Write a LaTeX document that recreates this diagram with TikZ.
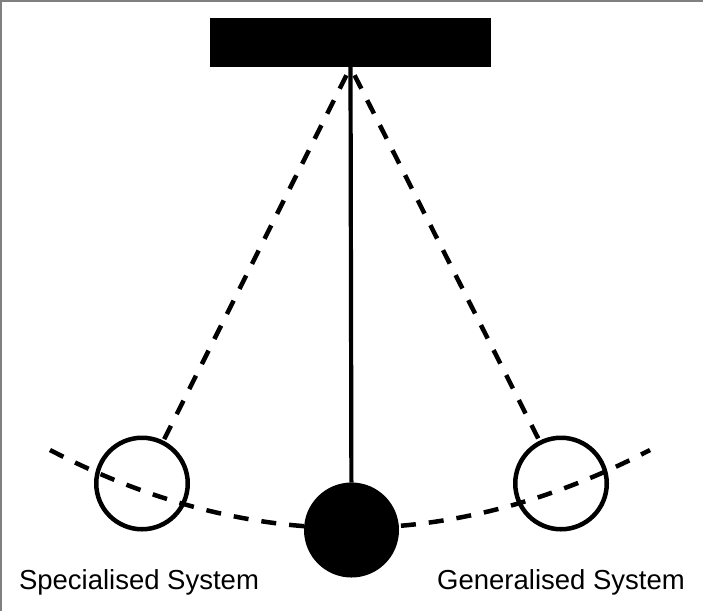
\documentclass[tikz,border=0pt]{standalone}
\usepackage{fontspec}
\setmainfont{Liberation Sans}
\begin{document}
\begin{tikzpicture}[x=1pt,y=-1pt,
  bar/.style={fill=black,inner sep=0pt,minimum width=281pt,minimum height=49pt},
  bob/.style={circle,draw=black,line width=4.5pt,inner sep=0pt,minimum size=91.5pt,fill=white},
  ball/.style={circle,draw=black,fill=black,line width=4pt,inner sep=0pt,minimum size=91pt},
  swing/.style={line width=4.5pt,dash pattern=on 15pt off 13pt},
  rod/.style={line width=4.2pt},
  lbl/.style={anchor=base,inner sep=0pt,font=\fontsize{27.5pt}{33pt}\selectfont}]
\useasboundingbox (0,0) rectangle (703,611);
\draw[gray,line width=1.5pt] (0.75,611) -- (0.75,0.75) -- (703,0.75);
\node[bar] (top) at (350.5,42.5) {};
\coordinate (pivot) at (top.south);
\node[bob] (lc) at (142,483.5) {};
\node[bob] (rc) at (561,483.5) {};
\node[ball] (b) at (351.5,530) {};
\coordinate (arcL) at (50,450);
\coordinate (arcR) at (650,450);
\draw[rod] (pivot) -- (b);
\draw[swing,dash phase=19pt] (pivot) -- (lc);
\draw[swing,dash phase=19pt] (pivot) -- (rc);
\draw[swing] (arcL) .. controls (250,554) and (450,554) .. (arcR);
\node[lbl] (ls) at (139,589) {Specialised System};
\node[lbl] (gs) at (561,589) {Generalised System};
\end{tikzpicture}
\end{document}
